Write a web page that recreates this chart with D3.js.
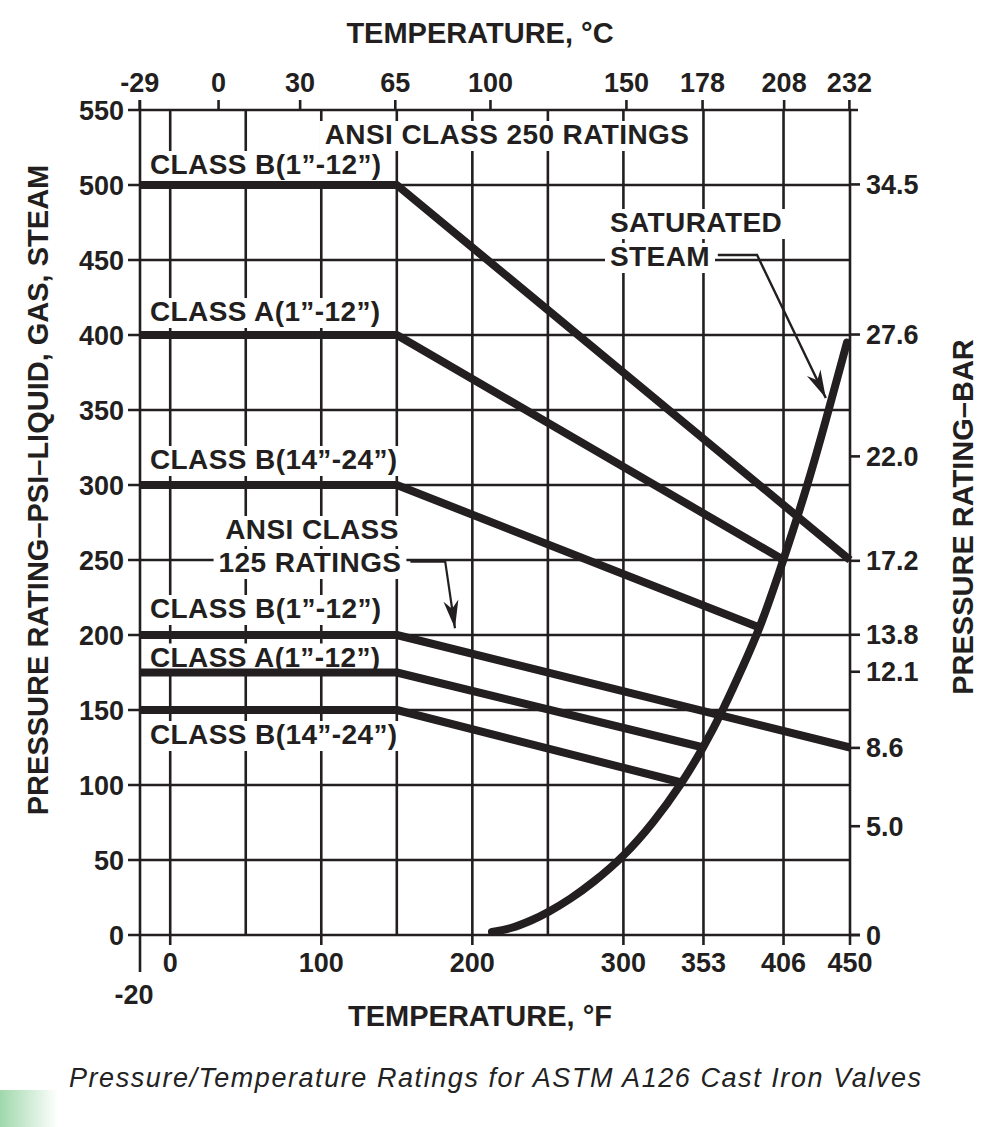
<!DOCTYPE html>
<html><head><meta charset="utf-8">
<script src="https://cdn.jsdelivr.net/npm/d3@7/dist/d3.min.js"></script>
<style>
body{margin:0;background:#fff}
text{font-family:"Liberation Sans",Arial,Helvetica,sans-serif;fill:#231f20}
</style>
</head><body>
<svg id="c" width="1000" height="1127"></svg>
<script>
// ---------- data ----------
const fTicks = [0, 100, 200, 300, 353, 406, 450];          // bottom axis, °F
const fGrid = [0, 50, 100, 150, 200, 250, 300, 353, 406, 450];
const cTicks = [-29, 0, 30, 65, 100, 150, 178, 208, 232];   // top axis, °C
const psiTicks = [0, 50, 100, 150, 200, 250, 300, 350, 400, 450, 500, 550];
const barTicks = [34.5, 27.6, 22.0, 17.2, 13.8, 12.1, 8.6, 5.0, 0];

// ANSI Class 250 ratings  [°F, psi]
const c250B_1_12  = [[-20, 500], [150, 500], [450, 250]];
const c250A_1_12  = [[-20, 400], [150, 400], [406, 250]];
const c250B_14_24 = [[-20, 300], [150, 300], [390, 205]];
// ANSI Class 125 ratings
const c125B_1_12  = [[-20, 200], [150, 200], [450, 125]];
const c125A_1_12  = [[-20, 175], [150, 175], [353, 125]];
const c125B_14_24 = [[-20, 150], [150, 150], [337, 102]];
// Saturated steam curve
const steam = [[213, 2], [225, 4], [240, 10], [250, 15], [265, 24], [280, 35], [300, 52],
               [320, 75], [338, 100], [353, 125], [366, 150], [380, 181], [391, 206],
               [406, 250], [422, 300], [434, 343], [448, 395]];

const seriesLabels = [
  {t: "CLASS B(1\u201D-12\u201D)", psi: 500, dy: -11},
  {t: "CLASS A(1\u201D-12\u201D)", psi: 400, dy: -14},
  {t: "CLASS B(14\u201D-24\u201D)", psi: 300, dy: -16},
  {t: "CLASS B(1\u201D-12\u201D)", psi: 200, dy: -17},
  {t: "CLASS A(1\u201D-12\u201D)", psi: 175, dy: -6},
  {t: "CLASS B(14\u201D-24\u201D)", psi: 150, dy: 34}
];

// ---------- layout ----------
const ink = "#231f20";
const svg = d3.select("#c");
const x = d3.scaleLinear().domain([-20, 450]).range([140, 850]);
const y = d3.scaleLinear().domain([0, 550]).range([935, 110]);
const cToF = c => c * 9 / 5 + 32;
const barToPsi = b => b * 14.5038;

const defs = svg.append("defs");
const g = defs.append("linearGradient").attr("id", "gr");
g.append("stop").attr("offset", "0").attr("stop-color", "#9fd8ab");
g.append("stop").attr("offset", "1").attr("stop-color", "#ffffff");
svg.append("rect").attr("x", 0).attr("y", 1090).attr("width", 58).attr("height", 37).attr("fill", "url(#gr)");

const gridG = svg.append("g").attr("stroke", ink).attr("stroke-width", 2.6);
const bgG = svg.append("g");
const lineG = svg.append("g");
const textG = svg.append("g");
const annG = svg.append("g");

// horizontal gridlines
gridG.selectAll(".h").data(psiTicks).join("line")
  .attr("x1", 128).attr("x2", d => d === 0 ? 860 : (d === 550 ? 858 : x(450)))
  .attr("y1", d => y(d)).attr("y2", d => y(d));
// vertical gridlines
gridG.selectAll(".v").data(fGrid).join("line")
  .attr("x1", d => x(d)).attr("x2", d => x(d))
  .attr("y1", y(550)).attr("y2", y(0));
// left axis line (extends to -20 label and top tick)
gridG.append("line").attr("x1", x(-20)).attr("x2", x(-20)).attr("y1", 100).attr("y2", 972);
// bottom ticks
gridG.selectAll(".bt").data(fTicks).join("line")
  .attr("x1", d => x(d)).attr("x2", d => x(d)).attr("y1", y(0)).attr("y2", y(0) + 10);
// top ticks
gridG.selectAll(".tt").data(cTicks).join("line")
  .attr("x1", d => x(cToF(d))).attr("x2", d => x(cToF(d))).attr("y1", 100).attr("y2", y(550));
// right ticks
gridG.selectAll(".rt").data(barTicks).join("line")
  .attr("x1", x(450)).attr("x2", x(450) + 10)
  .attr("y1", d => y(barToPsi(d))).attr("y2", d => y(barToPsi(d)));

// tick labels
textG.selectAll(".yl").data(psiTicks).join("text")
  .attr("x", 124).attr("y", d => y(d) + 9.5).attr("text-anchor", "end")
  .attr("font-size", 27).attr("font-weight", "bold").text(d => d);
textG.selectAll(".rl").data(barTicks).join("text")
  .attr("x", 866).attr("y", d => y(barToPsi(d)) + 9.5)
  .attr("font-size", 27).attr("font-weight", "bold").text(d => d === 0 ? "0" : d.toFixed(1));
textG.selectAll(".bl").data(fTicks).join("text")
  .attr("x", d => x(d)).attr("y", 972).attr("text-anchor", "middle")
  .attr("font-size", 27).attr("font-weight", "bold").text(d => d);
textG.append("text").attr("x", 134).attr("y", 1004).attr("text-anchor", "middle")
  .attr("font-size", 27).attr("font-weight", "bold").text("-20");
textG.selectAll(".tl").data(cTicks).join("text")
  .attr("x", d => x(cToF(d))).attr("y", 92).attr("text-anchor", "middle")
  .attr("font-size", 27).attr("font-weight", "bold").text(d => d);

// axis titles
textG.append("text").attr("x", 480).attr("y", 43).attr("text-anchor", "middle")
  .attr("font-size", 29).attr("font-weight", "bold").text("TEMPERATURE, °C");
textG.append("text").attr("x", 480).attr("y", 1026).attr("text-anchor", "middle")
  .attr("font-size", 29).attr("font-weight", "bold").text("TEMPERATURE, °F");
textG.append("text").attr("transform", "translate(48,490) rotate(-90)").attr("text-anchor", "middle")
  .attr("font-size", 29).attr("font-weight", "bold").text("PRESSURE RATING\u2013PSI\u2013LIQUID, GAS, STEAM");
textG.append("text").attr("transform", "translate(973,517) rotate(-90)").attr("text-anchor", "middle")
  .attr("font-size", 29).attr("font-weight", "bold").text("PRESSURE RATING\u2013BAR");

// caption
textG.append("text").attr("x", 495).attr("y", 1087).attr("text-anchor", "middle")
  .attr("font-size", 27).attr("font-style", "italic").style("fill", "#222")
  .attr("textLength", 852).attr("lengthAdjust", "spacing")
  .text("Pressure/Temperature Ratings for ASTM A126 Cast Iron Valves");

// annotation labels (with white backgrounds masking the grid)
const labels = [];
function label(t, px, py, anchor) {
  const el = textG.append("text").attr("x", px).attr("y", py)
    .attr("text-anchor", anchor || "start")
    .attr("font-size", 28).attr("font-weight", "bold").attr("letter-spacing", 0.4).text(t);
  labels.push(el);
}
seriesLabels.forEach(d => label(d.t, x(-20) + 10, y(d.psi) + d.dy));
label("ANSI CLASS 250 RATINGS", 507, 144, "middle");
label("ANSI CLASS", 312, 539, "middle");
label("125 RATINGS", 310, 572, "middle");
label("SATURATED", 610, 232);
label("STEAM", 610, 266);
labels.forEach(el => {
  const b = el.node().getBBox();
  bgG.append("rect").attr("x", b.x - 5).attr("y", b.y + 2).attr("width", b.width + 10)
    .attr("height", b.height - 1).attr("fill", "#fff");
});

// rating lines
const line = d3.line().x(d => x(d[0])).y(d => y(d[1]));
[c250B_1_12, c250A_1_12, c250B_14_24, c125B_1_12, c125A_1_12, c125B_14_24].forEach(s => {
  lineG.append("path").attr("d", line(s)).attr("fill", "none").attr("stroke", ink)
    .attr("stroke-width", 8).attr("stroke-linejoin", "round");
});
const smooth = d3.line().x(d => x(d[0])).y(d => y(d[1])).curve(d3.curveBasis);
lineG.append("path").attr("d", smooth(steam)).attr("fill", "none")
  .attr("stroke", ink).attr("stroke-width", 8).attr("stroke-linecap", "round");

// leader arrows
function arrowHead(x1, y1, x2, y2, len, hw) {
  const a = Math.atan2(y2 - y1, x2 - x1);
  const ux = Math.cos(a), uy = Math.sin(a), px = -uy, py = ux;
  const bx = x2 - ux * len, by = y2 - uy * len;
  const nx = x2 - ux * len * 0.7, ny = y2 - uy * len * 0.7;
  annG.append("path").attr("fill", ink)
    .attr("d", `M${x2},${y2}L${bx + px * hw},${by + py * hw}L${nx},${ny}L${bx - px * hw},${by - py * hw}Z`);
}
// Class 125 leader
const a1 = [x(159), y(249.3)], a2 = [x(182), y(249.3)], a3 = [x(188.5), y(204.5)];
annG.append("line").attr("x1", a1[0]).attr("y1", a1[1]).attr("x2", a2[0]).attr("y2", a2[1])
  .attr("stroke", ink).attr("stroke-width", 3.5);
annG.append("line").attr("x1", a2[0]).attr("y1", a2[1]).attr("x2", a3[0]).attr("y2", a3[1])
  .attr("stroke", ink).attr("stroke-width", 2.2);
arrowHead(a2[0], a2[1], a3[0], a3[1], 28, 7.5);
// Steam leader
const s1 = [x(362.5), y(453.3)], s2 = [x(388.5), y(453.3)], s3 = [x(434), y(358)];
annG.append("polyline").attr("points", [s1, s2, s3].map(p => p.join(",")).join(" "))
  .attr("fill", "none").attr("stroke", ink).attr("stroke-width", 2.4);
arrowHead(s2[0], s2[1], s3[0], s3[1], 28, 7.5);
</script>
</body></html>
